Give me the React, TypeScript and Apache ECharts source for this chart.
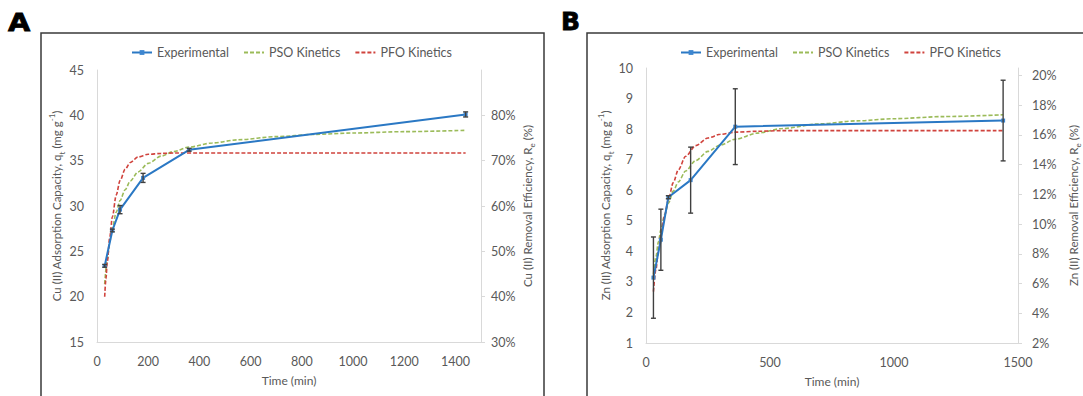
import React, { useEffect, useRef } from "react";
import * as echarts from "echarts";

// ---------- data ----------
const timeA = [30, 60, 90, 180, 360, 1440];
const expA = [23.4, 27.3, 29.6, 33.1, 36.2, 40.1];
const errA = [0.15, 0.15, 0.45, 0.5, 0.15, 0.28];

const psoTimeA = [30, 40, 50, 60, 75, 90, 110, 130, 160, 200, 250, 300, 360, 450, 550, 700, 850, 1000, 1200, 1440];
const psoA = [21.4, 24.1, 26.1, 27.6, 29.3, 30.6, 31.8, 32.75, 33.75, 34.7, 35.5, 36.0, 36.5, 36.95, 37.3, 37.65, 37.9, 38.05, 38.2, 38.35];

const pfoTimeA = [30, 35, 40, 50, 60, 75, 90, 110, 130, 160, 200, 250, 300, 600, 1440];
const pfoA = [20.0, 22.0, 23.8, 26.6, 28.8, 31.2, 32.8, 34.05, 34.8, 35.4, 35.7, 35.8, 35.85, 35.85, 35.85];

const timeB = [30, 60, 90, 180, 360, 1440];
const expB = [3.14, 4.38, 5.77, 6.33, 8.08, 8.28];
const errB = [1.33, 1.0, 0.05, 1.08, 1.24, 1.32];

const psoTimeB = [30, 40, 50, 60, 75, 90, 110, 130, 160, 200, 250, 300, 360, 450, 550, 700, 850, 1000, 1200, 1440];
const psoB = [3.25, 3.82, 4.31, 4.71, 5.19, 5.57, 5.97, 6.27, 6.63, 6.97, 7.27, 7.48, 7.67, 7.87, 8.02, 8.17, 8.27, 8.34, 8.41, 8.47];

const pfoTimeB = [30, 40, 50, 60, 75, 90, 110, 130, 160, 200, 250, 300, 360, 450, 550, 1440];
const pfoB = [2.68, 3.41, 4.0, 4.52, 5.17, 5.69, 6.25, 6.66, 7.11, 7.46, 7.71, 7.83, 7.9, 7.93, 7.95, 7.95];

const seriesNames = ["Experimental", "PSO Kinetics", "PFO Kinetics"];
const ticksA = { xMin: 0, xMax: 1500, xStep: 200, yMin: 15, yMax: 45, yStep: 5, rMin: 0.3, rMax: 0.9, rStep: 0.1 };
const ticksB = { xMin: 0, xMax: 1500, xStep: 500, yMin: 1, yMax: 10, yStep: 1, rMin: 0.02, rMax: 0.205, rStep: 0.02 };

// ---------- styles ----------
const FONT = "Lato, 'Open Sans', sans-serif";
const GRAY = "#595959";
const AXIS = "#d9d9d9";
const BLUE = "#2a78c4";
const GREEN = "#9bbb59";
const RED = "#d0433d";

const rich = {
  n: { fontSize: 11.5, color: GRAY, fontFamily: FONT },
  sub: { fontSize: 8, color: GRAY, fontFamily: FONT, verticalAlign: "bottom", lineHeight: 8, padding: [0, 0, -3, 0] },
  sup: { fontSize: 8, color: GRAY, fontFamily: FONT, verticalAlign: "top", lineHeight: 8, padding: [-3, 0, 0, 0] },
};

const zip = (xs: number[], ys: number[]) => xs.map((x, i) => [x, ys[i]]);
const errData = (xs: number[], ys: number[], es: number[]) => xs.map((x, i) => [x, ys[i] - es[i], ys[i] + es[i]]);

const pct = (v: number) => Math.round(v * 100) + "%";
const plain = (v: number) => String(Math.round(v));

function xAxisCfg(grid: number, t: any) {
  return {
    gridIndex: grid,
    type: "value",
    min: t.xMin,
    max: t.xMax,
    interval: t.xStep,
    axisLine: { show: true, lineStyle: { color: AXIS, width: 1 } },
    axisTick: { show: false },
    splitLine: { show: false },
    axisLabel: { color: GRAY, fontSize: 12.5, fontFamily: FONT, margin: 13, showMaxLabel: t.xMax % t.xStep === 0, formatter: plain },
    name: "Time (min)",
    nameLocation: "middle",
    nameGap: 32,
    nameTextStyle: { color: GRAY, fontSize: 12, fontFamily: FONT },
  };
}

function leftAxisCfg(grid: number, t: any, name: string, gap: number, margin: number) {
  return {
    gridIndex: grid,
    type: "value",
    position: "left",
    min: t.yMin,
    max: t.yMax,
    interval: t.yStep,
    axisLine: { show: true, lineStyle: { color: AXIS, width: 1 } },
    axisTick: { show: false },
    splitLine: { show: false },
    axisLabel: { color: GRAY, fontSize: 12.5, fontFamily: FONT, margin, formatter: plain },
    name,
    nameLocation: "middle",
    nameGap: gap,
    nameTextStyle: { rich },
  };
}

function rightAxisCfg(grid: number, t: any, name: string, gap: number, margin: number) {
  return {
    gridIndex: grid,
    type: "value",
    position: "right",
    min: t.rMin,
    max: t.rMax,
    interval: t.rStep,
    axisLine: { show: true, lineStyle: { color: AXIS, width: 1 } },
    axisTick: { show: true, length: 4, lineStyle: { color: AXIS } },
    splitLine: { show: false },
    axisLabel: { color: GRAY, fontSize: 12.5, fontFamily: FONT, margin, showMaxLabel: false, formatter: pct },
    name,
    nameLocation: "middle",
    nameGap: gap,
    nameTextStyle: { rich },
  };
}

function errorSeries(axisIdx: number, data: number[][]) {
  return {
    type: "custom",
    name: "err" + axisIdx,
    xAxisIndex: axisIdx,
    yAxisIndex: axisIdx * 2,
    z: 4,
    data,
    encode: { x: 0, y: [1, 2] },
    renderItem: (params: any, api: any) => {
      const x = api.value(0);
      const p1 = api.coord([x, api.value(2)]);
      const p2 = api.coord([x, api.value(1)]);
      const w = 2.5;
      const st = { stroke: "#404040", lineWidth: 1.4 };
      return {
        type: "group",
        children: [
          { type: "line", shape: { x1: p1[0], y1: p1[1], x2: p2[0], y2: p2[1] }, style: st },
          { type: "line", shape: { x1: p1[0] - w, y1: p1[1], x2: p1[0] + w, y2: p1[1] }, style: st },
          { type: "line", shape: { x1: p2[0] - w, y1: p2[1], x2: p2[0] + w, y2: p2[1] }, style: st },
        ],
      };
    },
  };
}

function panelSeries(axisIdx: number, tExp: number[], exp: number[], tPso: number[], pso: number[], tPfo: number[], pfo: number[]) {
  const y = axisIdx * 2;
  return [
    {
      type: "line",
      name: seriesNames[1],
      xAxisIndex: axisIdx,
      yAxisIndex: y,
      data: zip(tPso, pso),
      symbol: "none",
      smooth: 0.3,
      smoothMonotone: "x",
      lineStyle: { color: GREEN, width: 1.6, type: [4, 2] },
      itemStyle: { color: GREEN },
      z: 2,
    },
    {
      type: "line",
      name: seriesNames[2],
      xAxisIndex: axisIdx,
      yAxisIndex: y,
      data: zip(tPfo, pfo),
      symbol: "none",
      smooth: 0.3,
      smoothMonotone: "x",
      lineStyle: { color: RED, width: 1.6, type: [4, 2] },
      itemStyle: { color: RED },
      z: 2,
    },
    {
      type: "line",
      name: seriesNames[0],
      xAxisIndex: axisIdx,
      yAxisIndex: y,
      data: zip(tExp, exp),
      symbol: "rect",
      symbolSize: 4,
      lineStyle: { color: BLUE, width: 2 },
      itemStyle: { color: "#3d86d0" },
      z: 3,
    },
  ];
}

function legendCfg(left: number) {
  return {
    left,
    top: 41,
    itemWidth: 20,
    itemHeight: 6,
    itemGap: 14,
    textStyle: { color: GRAY, fontSize: 12.5, fontFamily: FONT },
    data: [
      { name: seriesNames[0] },
      { name: seriesNames[1], itemStyle: { opacity: 0 } },
      { name: seriesNames[2], itemStyle: { opacity: 0 } },
    ],
    selectedMode: false,
  };
}

export default function App() {
  const ref = useRef<HTMLDivElement>(null);
  useEffect(() => {
    const chart = echarts.init(ref.current!, null, { renderer: "svg" });
    const option: any = {
      animation: false,
      backgroundColor: "#ffffff",
      legend: [legendCfg(126), legendCfg(675)],
      grid: [
        { left: 97, top: 70, width: 384, height: 272 },
        { left: 646, top: 68, width: 382, height: 275 },
      ],
      xAxis: [xAxisCfg(0, ticksA), xAxisCfg(1, ticksB)],
      yAxis: [
        leftAxisCfg(0, ticksA, "{n|Cu (II) Adsorption Capacity, q}{sub|t}{n| (mg g}{sup|-1}{n|)}", 30, 13),
        rightAxisCfg(0, ticksA, "{n|Cu (II) Removal Efficiency, R}{sub|e}{n| (%)}", 40, 10),
        leftAxisCfg(1, ticksB, "{n|Zn (II) Adsorption Capacity, q}{sub|t}{n| (mg g}{sup|-1}{n|)}", 27, 13),
        rightAxisCfg(1, ticksB, "{n|Zn (II) Removal Efficiency, R}{sub|e}{n| (%)}", 49, 14),
      ],
      series: [
        ...panelSeries(0, timeA, expA, psoTimeA, psoA, pfoTimeA, pfoA),
        errorSeries(0, errData(timeA, expA, errA)),
        ...panelSeries(1, timeB, expB, psoTimeB, psoB, pfoTimeB, pfoB),
        errorSeries(1, errData(timeB, expB, errB)),
      ],
      graphic: [
        { type: "rect", silent: true, z: 0, shape: { x: 41, y: 33, width: 503, height: 400 }, style: { fill: "none", stroke: "#3a3a3a", lineWidth: 1.5 } },
        { type: "rect", silent: true, z: 0, shape: { x: 587, y: 33, width: 600, height: 400 }, style: { fill: "none", stroke: "#3a3a3a", lineWidth: 1.5 } },
        { type: "text", x: 8, y: 10, scaleX: 1.15, style: { text: "A", font: "900 25px 'DejaVu Sans'", fill: "#000", stroke: "#000", lineWidth: 0.8, verticalAlign: "top" } },
        { type: "text", x: 561, y: 9, scaleX: 1.0, style: { text: "B", font: "900 25px 'DejaVu Sans'", fill: "#000", stroke: "#000", lineWidth: 0.8, verticalAlign: "top" } },
      ],
    };
    chart.setOption(option);
    return () => chart.dispose();
  }, []);
  return (
    <div
      ref={ref}
      style={{ position: "fixed", left: 0, top: 0, width: 1083, height: 396, background: "#fff" }}
    />
  );
}
